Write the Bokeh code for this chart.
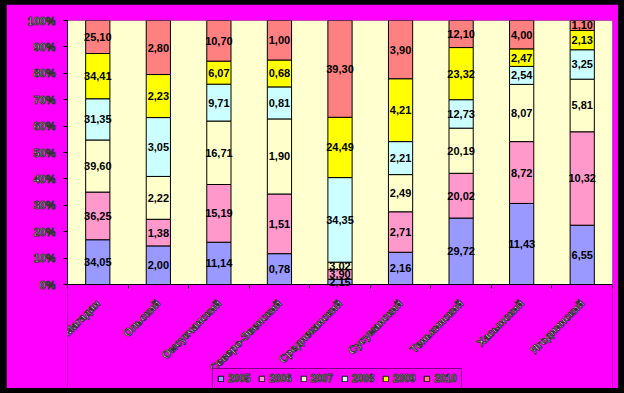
import math
import numpy as np
from bokeh.plotting import figure
from bokeh.models import Range1d, FixedTicker, Legend, LegendItem, ColumnDataSource, BoxAnnotation
from bokeh.core.properties import value
from bokeh.embed import file_html
from bokeh.resources import INLINE

categories = ["Магадан", "Ольский", "Омсукчанский", "Северо-Эвенский", "Среднеканский",
              "Сусуманский", "Тенькинский", "Хасынский", "Ягоднинский"]
years = ["2005", "2006", "2007", "2008", "2009", "2010"]
v2005 = [34.05, 2.00, 11.14, 0.78, 2.15, 2.16, 29.72, 11.43, 6.55]
v2006 = [36.25, 1.38, 15.19, 1.51, 3.90, 2.71, 20.02, 8.72, 10.32]
v2007 = [39.60, 2.22, 16.71, 1.90, 3.02, 2.49, 20.19, 8.07, 5.81]
v2008 = [31.35, 3.05, 9.71, 0.81, 34.35, 2.21, 12.73, 2.54, 3.25]
v2009 = [34.41, 2.23, 6.07, 0.68, 24.49, 4.21, 23.32, 2.47, 2.13]
v2010 = [25.10, 2.80, 10.70, 1.00, 39.30, 3.90, 12.10, 4.00, 1.10]
y_ticks = [0, 10, 20, 30, 40, 50, 60, 70, 80, 90, 100]
y_tick_labels = ["0%", "10%", "20%", "30%", "40%", "50%", "60%", "70%", "80%", "90%", "100%"]

colors = ["#9999FF", "#FF99CC", "#FFFFCC", "#CCFFFF", "#FFFF00", "#FF8080"]
FONT = "Liberation Sans"

series = [v2005, v2006, v2007, v2008, v2009, v2010]
vals = np.array(series, dtype=float)
pct = vals / vals.sum(axis=0) * 100.0
xs = np.arange(len(categories)) + 0.5

data = {"x": xs}
for y, row in zip(years, pct):
    data[y] = row
source = ColumnDataSource(data)

# layout: frame spans from the plot top to the bottom of the figure; 0..100 %
# occupies 264 px, the space below holds the category labels and the legend
W, H = 612, 384
TOP, LEFT, RIGHT = 16, 61, 6
PLOT_PX = 264.0
frame_h = H - TOP
y_start = -(frame_h - PLOT_PX) / PLOT_PX * 100.0

p = figure(width=W, height=H, x_range=Range1d(0, len(categories)), y_range=Range1d(y_start, 100),
           output_backend="svg", toolbar_location=None,
           min_border_left=LEFT, min_border_right=RIGHT, min_border_top=TOP, min_border_bottom=0)
p.border_fill_color = "#FF00FF"
p.background_fill_color = "#FF00FF"
p.outline_line_color = None
p.grid.visible = False

# plot area (light yellow) with grey border
p.add_layout(BoxAnnotation(left=0, right=len(categories), bottom=0, top=100,
                           fill_color="#FFFFD0", fill_alpha=1.0,
                           line_color="#808080", line_width=1, level="underlay"))

rs = p.vbar_stack(years, x="x", width=0.4, fill_color=colors, line_color="black",
                  line_width=1, source=source)

# data labels
lx, ly, lt = [], [], []
bottom = np.zeros(len(categories))
for row_v, row_p in zip(vals, pct):
    for i in range(len(categories)):
        lx.append(xs[i])
        ly.append(bottom[i] + row_p[i] / 2.0)
        lt.append(f"{row_v[i]:.2f}".replace(".", ","))
    bottom = bottom + row_p
lsrc = ColumnDataSource(dict(x=lx, y=ly, t=lt))
p.text(x="x", y="y", text="t", source=lsrc, text_align="center", text_baseline="middle",
       text_font=value(FONT), text_font_style="bold", text_font_size="11px", text_color="black")

# y axis
p.yaxis.ticker = FixedTicker(ticks=y_ticks)
p.yaxis.bounds = (0, 100)
p.yaxis.major_label_overrides = {t: l for t, l in zip(y_ticks, y_tick_labels)}
p.yaxis.minor_tick_line_color = None
p.yaxis.major_tick_in = 0
p.yaxis.major_tick_out = 4
p.yaxis.major_label_standoff = 8

# x axis, drawn at the 0 % line
p.xaxis.fixed_location = 0
p.xaxis.ticker = FixedTicker(ticks=list(xs), minor_ticks=list(range(len(categories) + 1)))
p.xaxis.major_label_overrides = {float(x): c for x, c in zip(xs, categories)}
p.xaxis.major_tick_in = 0
p.xaxis.major_tick_out = 0
p.xaxis.minor_tick_in = 0
p.xaxis.minor_tick_out = 4
p.xaxis.minor_tick_line_color = "black"
p.xaxis.major_label_orientation = math.pi / 4
p.xaxis.major_label_standoff = 13

for ax in (p.xaxis[0], p.yaxis[0]):
    ax.axis_line_color = "black"
    ax.major_tick_line_color = "black"
    ax.major_label_text_font = FONT
    ax.major_label_text_font_style = "bold"
    ax.major_label_text_font_size = "11px"
    ax.major_label_text_color = "white"
    try:
        ax.major_label_text_outline_color = "#333333"
    except Exception:
        pass

legend = Legend(items=[LegendItem(label=y, renderers=[r]) for y, r in zip(years, rs)],
                orientation="horizontal", location=(145, -1),
                glyph_width=7, glyph_height=7, label_standoff=4, spacing=8,
                padding=4, margin=0, label_height=9,
                label_text_font=FONT, label_text_font_style="bold",
                label_text_font_size="10px", label_text_color="white",
                background_fill_color="#FF00FF", background_fill_alpha=1.0,
                border_line_color="black", border_line_width=1)
try:
    legend.label_text_outline_color = "#333333"
except Exception:
    pass
p.add_layout(legend, "center")

html = file_html(p, INLINE)
html = html.replace("<head>",
                    "<head><style>html, body {background:#000000 !important;}"
                    " body {padding:4px 0 0 6px !important;}</style>", 1)
open("out.html", "w").write(html)
